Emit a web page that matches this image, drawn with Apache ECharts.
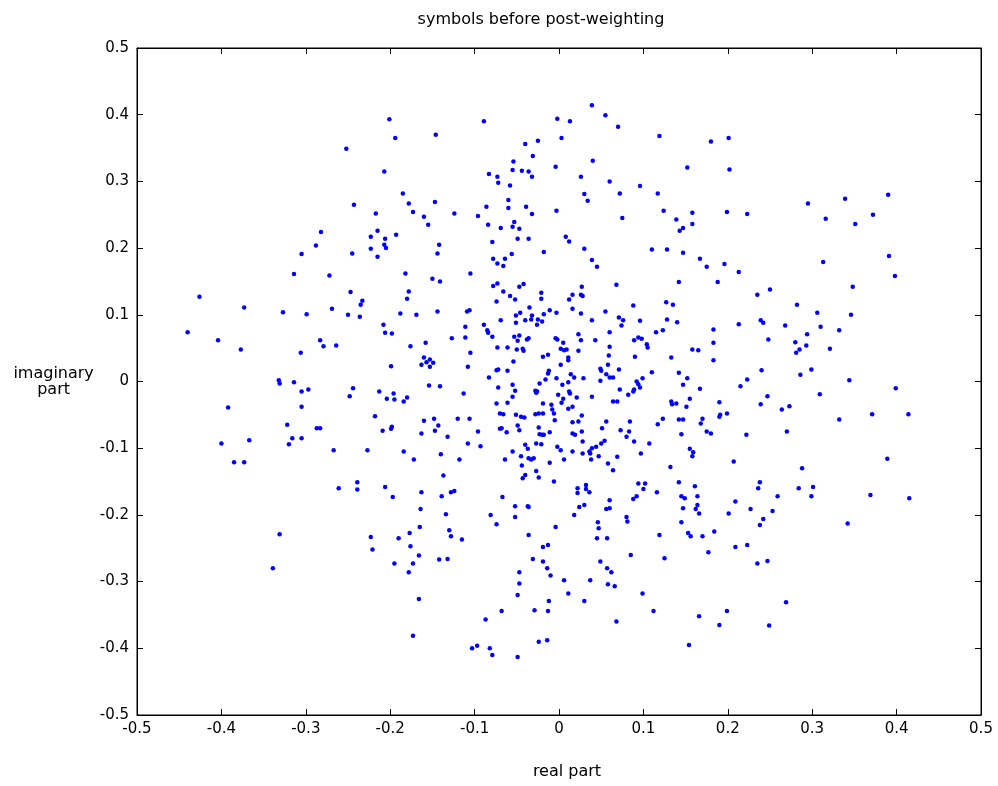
<!DOCTYPE html>
<html>
<head>
<meta charset="utf-8">
<script src="https://cdn.jsdelivr.net/npm/echarts@6/dist/echarts.min.js"></script>
<style>
  html, body { margin: 0; padding: 0; background: #fff; }
  #chart { width: 998px; height: 786px; }
</style>
</head>
<body>
<div id="chart"></div>
<script>
// tick labels
const xTickLabels = ['-0.5', '-0.4', '-0.3', '-0.2', '-0.1', '0', '0.1', '0.2', '0.3', '0.4', '0.5'];
const yTickLabels = ['-0.5', '-0.4', '-0.3', '-0.2', '-0.1', '0', '0.1', '0.2', '0.3', '0.4', '0.5'];

// received symbols, [real, imaginary]
const symbols = [
  [-0.252,0.349],[-0.243,0.265],[-0.282,0.224],[-0.288,0.204],[-0.305,0.191],[-0.245,0.192],[-0.314,0.161],[-0.272,0.159],
  [-0.201,0.393],[-0.194,0.365],[-0.146,0.370],[-0.089,0.390],[-0.002,0.394],[-0.040,0.356],[-0.025,0.361],[-0.031,0.338],
  [-0.004,0.322],[-0.207,0.315],[-0.054,0.330],[-0.055,0.317],[-0.044,0.316],[-0.036,0.315],[-0.032,0.307],[-0.083,0.311],
  [-0.073,0.307],[-0.072,0.298],[-0.058,0.294],[-0.185,0.282],[-0.178,0.267],[-0.147,0.269],[-0.217,0.252],[-0.173,0.254],
  [-0.160,0.247],[-0.124,0.252],[-0.155,0.235],[-0.215,0.226],[-0.223,0.217],[-0.193,0.220],[-0.206,0.214],[-0.223,0.199],
  [-0.207,0.205],[-0.205,0.200],[-0.215,0.187],[-0.142,0.205],[-0.144,0.192],[-0.182,0.162],[-0.150,0.154],[-0.141,0.150],
  [-0.105,0.162],[-0.086,0.262],[-0.096,0.248],[-0.084,0.235],[-0.069,0.230],[-0.060,0.272],[-0.060,0.260],[-0.039,0.262],
  [-0.032,0.251],[-0.053,0.239],[-0.055,0.232],[-0.047,0.229],[-0.003,0.256],[-0.049,0.214],[-0.036,0.214],[-0.079,0.209],
  [-0.056,0.191],[-0.018,0.194],[-0.078,0.184],[-0.073,0.177],[-0.064,0.184],[-0.066,0.173],[-0.078,0.143],[-0.073,0.147],
  [-0.047,0.142],[-0.042,0.146],
  [0.039,0.414],[0.055,0.399],[0.013,0.390],[0.070,0.382],[0.003,0.365],[0.119,0.368],[0.180,0.360],[0.201,0.365],
  [0.040,0.331],[0.152,0.321],[0.202,0.318],[0.026,0.307],[0.060,0.300],[0.096,0.293],[0.030,0.281],[0.072,0.282],
  [0.117,0.282],[0.034,0.271],[0.124,0.256],[0.075,0.245],[0.158,0.253],[0.199,0.254],[0.223,0.251],[0.139,0.243],
  [0.158,0.236],[0.147,0.230],[0.143,0.226],[0.008,0.217],[0.012,0.210],[0.030,0.199],[0.039,0.182],[0.045,0.172],
  [0.110,0.198],[0.128,0.198],[0.147,0.193],[0.167,0.184],[0.175,0.172],[0.196,0.176],[0.213,0.164],[0.027,0.142],
  [0.068,0.145],[0.142,0.149],[0.188,0.149],
  [0.295,0.267],[0.339,0.274],[0.390,0.280],[0.316,0.244],[0.351,0.236],[0.372,0.250],[0.313,0.179],[0.391,0.188],
  [0.398,0.158],[0.348,0.142],
  [-0.426,0.127],[-0.373,0.111],[-0.247,0.134],[-0.233,0.121],[-0.235,0.115],[-0.327,0.104],[-0.299,0.101],[-0.269,0.109],
  [-0.250,0.100],[-0.236,0.097],[-0.440,0.074],[-0.404,0.062],[-0.377,0.048],[-0.306,0.043],[-0.283,0.062],[-0.279,0.053],
  [-0.264,0.054],[-0.332,0.002],[-0.331,-0.003],[-0.314,-0.001],[-0.305,-0.015],[-0.297,-0.012],[-0.244,-0.010],[-0.248,-0.022],
  [-0.392,-0.039],[-0.305,-0.038],[-0.322,-0.065],[-0.287,-0.070],[-0.283,-0.070],[-0.316,-0.085],[-0.305,-0.085],[-0.320,-0.094],
  [-0.400,-0.093],[-0.367,-0.088],[-0.267,-0.103],[-0.385,-0.121],[-0.373,-0.121],
  [-0.178,0.135],[-0.180,0.124],[-0.066,0.135],[-0.058,0.128],[-0.052,0.123],[-0.074,0.120],[-0.021,0.133],[-0.021,0.124],
  [-0.188,0.102],[-0.169,0.100],[-0.144,0.105],[-0.109,0.105],[-0.106,0.107],[-0.035,0.111],[-0.046,0.103],[-0.051,0.099],
  [-0.032,0.099],[-0.033,0.093],[-0.040,0.092],[-0.025,0.093],[-0.018,0.101],[-0.011,0.107],[-0.003,0.103],[-0.069,0.092],
  [-0.051,0.088],[-0.020,0.090],[-0.026,0.085],[-0.208,0.085],[-0.206,0.073],[-0.198,0.072],[-0.111,0.082],[-0.089,0.085],
  [-0.085,0.077],[-0.084,0.073],[-0.079,0.067],[-0.111,0.066],[-0.127,0.065],[-0.053,0.067],[-0.047,0.069],[-0.049,0.061],
  [-0.038,0.063],[-0.036,0.065],[-0.004,0.065],[-0.002,0.063],[-0.158,0.058],[-0.176,0.053],[-0.073,0.051],[-0.061,0.051],
  [-0.050,0.048],[-0.043,0.049],[-0.042,0.046],[-0.105,0.043],[-0.160,0.036],[-0.153,0.033],[-0.157,0.029],[-0.149,0.028],
  [-0.163,0.025],[-0.153,0.022],[-0.199,0.023],[-0.108,0.022],[-0.019,0.037],[-0.013,0.040],[-0.054,0.030],[-0.074,0.017],
  [-0.072,0.018],[-0.061,0.016],[-0.012,0.016],[-0.013,0.012],[-0.083,0.006],[-0.016,0.003],[-0.023,-0.003],[-0.003,0.005],
  [-0.154,-0.006],[-0.141,-0.007],[-0.055,-0.005],[-0.072,-0.009],[-0.052,-0.014],[-0.028,-0.014],[-0.026,-0.015],[-0.027,-0.017],
  [-0.213,-0.015],[-0.196,-0.018],[-0.204,-0.026],[-0.195,-0.027],[-0.180,-0.024],[-0.184,-0.030],[-0.113,-0.018],[-0.055,-0.023],
  [-0.061,-0.032],[-0.074,-0.033],[-0.019,-0.033],[-0.009,-0.035],[-0.001,-0.020],[-0.218,-0.052],[-0.070,-0.048],[-0.066,-0.049],
  [-0.051,-0.050],[-0.045,-0.053],[-0.041,-0.054],[-0.028,-0.049],[-0.024,-0.048],[-0.019,-0.048],[-0.008,-0.042],[-0.006,-0.048],
  [-0.160,-0.059],[-0.148,-0.056],[-0.120,-0.056],[-0.106,-0.056],[-0.005,-0.058],[-0.198,-0.068],[-0.199,-0.071],[-0.209,-0.074],
  [-0.143,-0.066],[-0.147,-0.074],[-0.163,-0.078],[-0.096,-0.075],[-0.070,-0.071],[-0.068,-0.070],[-0.062,-0.076],[-0.049,-0.066],
  [-0.047,-0.073],[-0.024,-0.069],[-0.023,-0.079],[-0.020,-0.080],[-0.018,-0.080],[-0.011,-0.076],[-0.132,-0.083],[-0.108,-0.093],
  [-0.093,-0.097],[-0.040,-0.095],[-0.037,-0.101],[-0.027,-0.093],[-0.021,-0.094],[-0.002,-0.098],[-0.227,-0.103],[-0.184,-0.105],
  [-0.140,-0.109],[-0.055,-0.105],[-0.045,-0.112],[-0.036,-0.115],[-0.033,-0.117],[-0.030,-0.115],[-0.172,-0.117],[-0.118,-0.117],
  [-0.064,-0.117],[-0.011,-0.122],[-0.044,-0.126],[-0.027,-0.134],[-0.040,-0.140],[-0.137,-0.141],[-0.043,-0.145],[-0.024,-0.144],
  [0.016,0.130],[0.026,0.130],[0.028,0.128],[0.012,0.123],[0.016,0.109],[0.026,0.102],[0.055,0.105],[0.088,0.114],
  [0.127,0.119],[0.135,0.115],[0.039,0.092],[0.071,0.096],[0.076,0.092],[0.074,0.084],[0.096,0.091],[0.128,0.093],
  [0.140,0.089],[0.213,0.086],[0.183,0.078],[0.023,0.071],[0.060,0.074],[0.115,0.074],[0.123,0.077],[0.005,0.058],
  [0.026,0.062],[0.043,0.062],[0.089,0.062],[0.094,0.066],[0.098,0.064],[0.104,0.056],[0.105,0.051],[0.183,0.058],
  [0.002,0.049],[0.006,0.047],[0.009,0.048],[0.023,0.046],[0.060,0.052],[0.158,0.048],[0.165,0.047],[0.011,0.036],
  [0.011,0.032],[0.059,0.039],[0.090,0.037],[0.133,0.036],[0.183,0.032],[0.002,0.025],[0.049,0.019],[0.050,0.016],
  [0.058,0.025],[0.071,0.018],[0.110,0.014],[0.014,0.011],[0.018,0.006],[0.029,0.005],[0.056,0.011],[0.060,0.006],
  [0.064,0.006],[0.099,0.005],[0.142,0.013],[0.152,0.005],[0.223,0.003],[0.011,-0.001],[0.004,-0.005],[0.049,0.001],
  [0.092,0.000],[0.094,-0.004],[0.096,-0.009],[0.147,-0.005],[0.215,-0.007],[0.072,-0.012],[0.089,-0.012],[0.088,-0.015],
  [0.167,-0.011],[0.012,-0.015],[0.013,-0.018],[0.021,-0.024],[0.039,-0.023],[0.082,-0.020],[0.005,-0.026],[0.003,-0.032],
  [0.016,-0.038],[0.011,-0.041],[0.064,-0.030],[0.069,-0.030],[0.133,-0.030],[0.134,-0.034],[0.139,-0.033],[0.155,-0.026],
  [0.151,-0.038],[0.190,-0.031],[0.027,-0.051],[0.016,-0.061],[0.023,-0.060],[0.056,-0.060],[0.084,-0.060],[0.117,-0.064],
  [0.123,-0.056],[0.142,-0.057],[0.147,-0.057],[0.168,-0.063],[0.170,-0.056],[0.190,-0.053],[0.191,-0.050],[0.199,-0.048],
  [0.016,-0.078],[0.019,-0.080],[0.027,-0.075],[0.051,-0.070],[0.073,-0.073],[0.083,-0.075],[0.080,-0.083],[0.145,-0.079],
  [0.175,-0.075],[0.180,-0.078],[0.222,-0.080],[0.028,-0.090],[0.050,-0.093],[0.054,-0.089],[0.089,-0.090],[0.107,-0.093],
  [0.002,-0.103],[0.016,-0.105],[0.028,-0.108],[0.036,-0.105],[0.037,-0.108],[0.039,-0.100],[0.044,-0.098],[0.097,-0.108],
  [0.155,-0.101],[0.159,-0.106],[0.158,-0.112],[0.006,-0.117],[0.038,-0.117],[0.047,-0.112],[0.069,-0.113],[0.058,-0.123],
  [0.207,-0.120],[0.064,-0.133],[0.132,-0.128],
  [0.250,0.138],[0.235,0.130],[0.282,0.115],[0.306,0.103],[0.346,0.100],[0.239,0.092],[0.242,0.088],[0.268,0.084],
  [0.310,0.082],[0.332,0.077],[0.294,0.071],[0.248,0.063],[0.280,0.059],[0.293,0.054],[0.285,0.048],[0.281,0.043],
  [0.321,0.049],[0.240,0.017],[0.286,0.010],[0.299,0.018],[0.344,0.002],[0.399,-0.010],[0.247,-0.022],[0.239,-0.034],
  [0.264,-0.042],[0.273,-0.037],[0.309,-0.019],[0.371,-0.049],[0.414,-0.049],[0.332,-0.057],[0.270,-0.075],[0.389,-0.116],
  [0.288,-0.130],
  [-0.239,-0.151],[-0.261,-0.160],[-0.239,-0.162],[-0.331,-0.229],[-0.339,-0.280],
  [-0.006,-0.150],[-0.206,-0.158],[-0.197,-0.173],[-0.163,-0.166],[-0.139,-0.172],[-0.128,-0.166],[-0.124,-0.164],[-0.067,-0.173],
  [-0.052,-0.187],[-0.037,-0.187],[-0.036,-0.188],[-0.052,-0.203],[-0.081,-0.200],[-0.074,-0.214],[-0.164,-0.191],[-0.134,-0.199],
  [-0.165,-0.218],[-0.004,-0.218],[-0.223,-0.233],[-0.221,-0.252],[-0.190,-0.235],[-0.177,-0.227],[-0.176,-0.247],[-0.166,-0.261],
  [-0.195,-0.273],[-0.173,-0.273],[-0.178,-0.286],[-0.130,-0.223],[-0.128,-0.232],[-0.115,-0.237],[-0.142,-0.267],[-0.132,-0.266],
  [-0.036,-0.230],[-0.019,-0.248],[-0.013,-0.245],[-0.031,-0.266],[-0.019,-0.270],[-0.014,-0.280],[-0.010,-0.291],[-0.047,-0.286],
  [-0.047,-0.303],[-0.049,-0.320],[-0.166,-0.326],[-0.012,-0.329],[-0.068,-0.344],[-0.029,-0.343],[-0.013,-0.344],[-0.087,-0.357],
  [-0.173,-0.381],[-0.103,-0.400],[-0.097,-0.396],[-0.082,-0.400],[-0.079,-0.410],[-0.049,-0.413],[-0.024,-0.390],[-0.014,-0.388],
  [0.022,-0.160],[0.022,-0.167],[0.032,-0.155],[0.032,-0.161],[0.036,-0.166],[0.094,-0.153],[0.102,-0.153],[0.100,-0.161],
  [0.142,-0.151],[0.161,-0.157],[0.116,-0.166],[0.092,-0.172],[0.088,-0.176],[0.145,-0.172],[0.149,-0.175],[0.164,-0.172],
  [0.060,-0.178],[0.024,-0.188],[0.030,-0.185],[0.056,-0.191],[0.060,-0.190],[0.147,-0.190],[0.164,-0.185],[0.162,-0.191],
  [0.166,-0.198],[0.209,-0.180],[0.227,-0.191],[0.201,-0.198],[0.018,-0.200],[0.080,-0.203],[0.081,-0.210],[0.046,-0.211],
  [0.047,-0.220],[0.145,-0.211],[0.153,-0.227],[0.156,-0.232],[0.170,-0.232],[0.184,-0.225],[0.119,-0.230],[0.045,-0.235],
  [0.057,-0.235],[0.209,-0.248],[0.223,-0.245],[0.177,-0.256],[0.085,-0.260],[0.125,-0.265],[0.049,-0.270],[0.057,-0.280],
  [0.062,-0.286],[0.006,-0.298],[0.037,-0.298],[0.058,-0.304],[0.066,-0.307],[0.011,-0.318],[0.030,-0.329],[0.099,-0.318],
  [0.112,-0.344],[0.068,-0.360],[0.166,-0.352],[0.199,-0.344],[0.190,-0.365],[0.154,-0.395],
  [0.238,-0.151],[0.236,-0.160],[0.284,-0.160],[0.301,-0.158],[0.259,-0.172],[0.299,-0.172],[0.369,-0.170],[0.415,-0.175],
  [0.253,-0.194],[0.242,-0.206],[0.238,-0.215],[0.342,-0.213],[0.235,-0.273],[0.247,-0.269],[0.269,-0.331],[0.249,-0.366]
];

const chart = echarts.init(document.getElementById('chart'));
const font = 'DejaVu Sans, Liberation Sans, Arial, sans-serif';
const lineStyle = { color: '#000', width: 1 };

chart.setOption({
  animation: false,
  backgroundColor: '#fff',
  textStyle: { fontFamily: font, color: '#000' },
  title: {
    text: 'symbols before post-weighting',
    left: 536,
    top: 7,
    textAlign: 'center',
    textStyle: { fontFamily: font, fontSize: 16, fontWeight: 'normal', color: '#000' }
  },
  grid: {
    left: 137, right: 17, top: 48, bottom: 71,
    show: true, borderColor: '#000', borderWidth: 1, backgroundColor: '#fff'
  },
  xAxis: [
    {
      type: 'value', min: -0.5, max: 0.5, interval: 0.1,
      name: 'real part', nameLocation: 'middle', nameGap: 49,
      nameTextStyle: { fontFamily: font, fontSize: 16, color: '#000', padding: [0, 0, 0, 16] },
      axisLine: { show: true, onZero: false, lineStyle },
      axisTick: { show: true, inside: true, length: 6, lineStyle },
      axisLabel: {
        color: '#000', fontFamily: font, fontSize: 15, margin: 7,
        formatter: (v, i) => xTickLabels[i]
      },
      splitLine: { show: false }
    },
    {
      type: 'value', position: 'top', min: -0.5, max: 0.5, interval: 0.1,
      axisLine: { show: true, onZero: false, lineStyle },
      axisTick: { show: true, inside: true, length: 6, lineStyle },
      axisLabel: { show: false },
      splitLine: { show: false }
    }
  ],
  yAxis: [
    {
      type: 'value', min: -0.5, max: 0.5, interval: 0.1,
      name: 'imaginary\npart', nameLocation: 'middle', nameGap: 80, nameRotate: 0,
      nameTextStyle: { fontFamily: font, fontSize: 16, color: '#000', align: 'center', verticalAlign: 'middle', lineHeight: 16, padding: [24, 0, 0, 0] },
      axisLine: { show: true, onZero: false, lineStyle },
      axisTick: { show: true, inside: true, length: 6, lineStyle },
      axisLabel: {
        color: '#000', fontFamily: font, fontSize: 15, margin: 8,
        formatter: (v, i) => yTickLabels[i]
      },
      splitLine: { show: false }
    },
    {
      type: 'value', position: 'right', min: -0.5, max: 0.5, interval: 0.1,
      axisLine: { show: true, onZero: false, lineStyle },
      axisTick: { show: true, inside: true, length: 6, lineStyle },
      axisLabel: { show: false },
      splitLine: { show: false }
    }
  ],
  series: [
    {
      type: 'scatter',
      xAxisIndex: 0,
      yAxisIndex: 0,
      data: symbols,
      symbol: 'circle',
      symbolSize: 4.5,
      itemStyle: { color: '#0000ff', opacity: 1 },
      silent: true
    }
  ]
});
</script>
</body>
</html>
